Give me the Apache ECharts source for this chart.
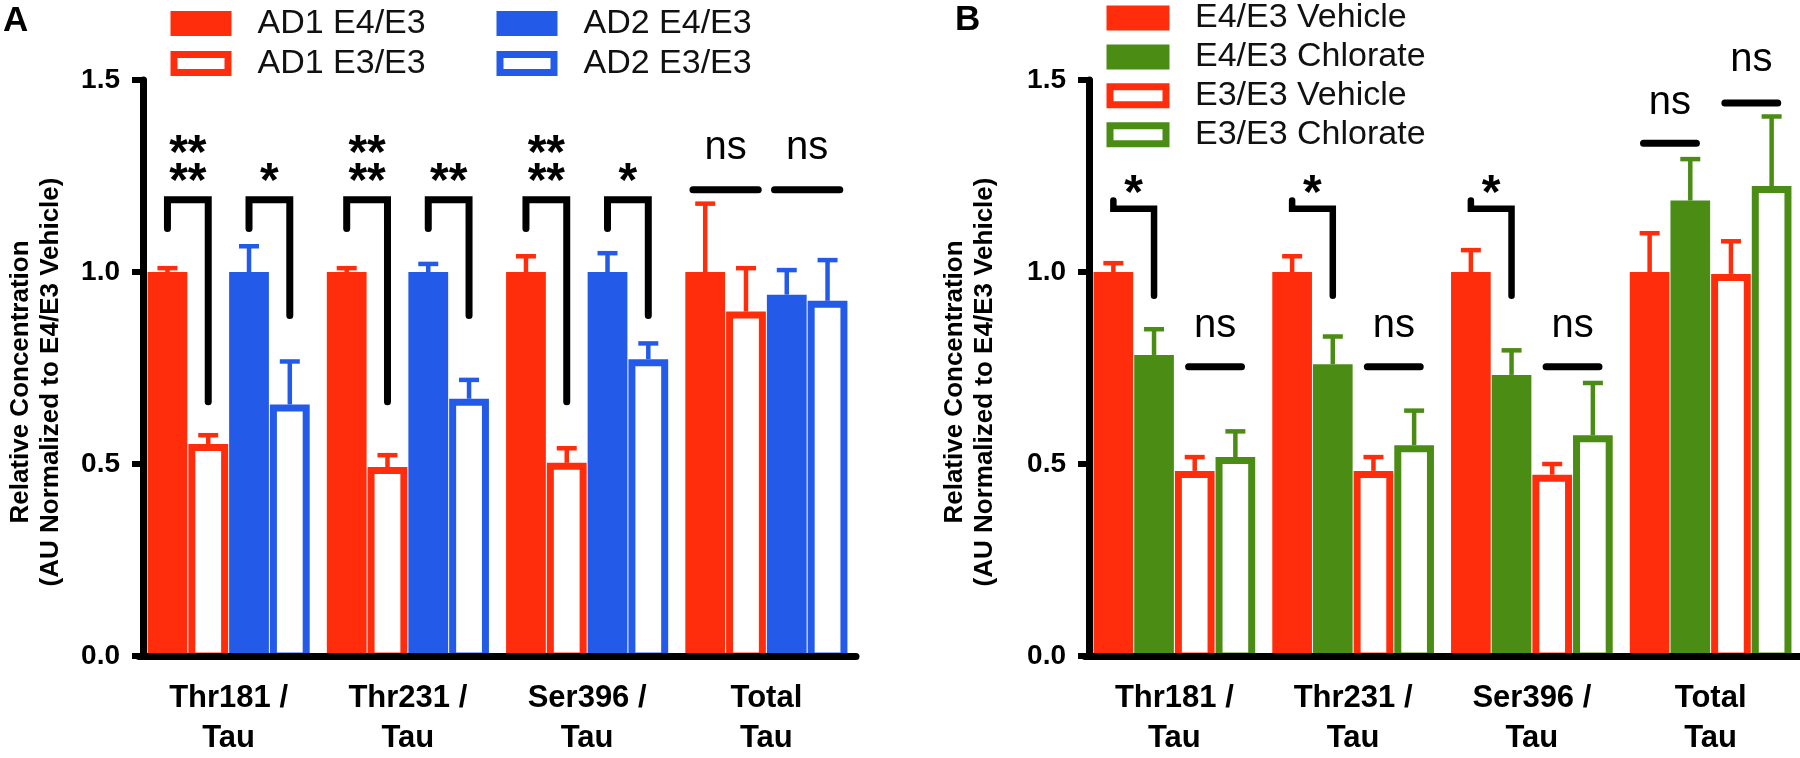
<!DOCTYPE html>
<html><head><meta charset="utf-8">
<script src="https://cdn.jsdelivr.net/npm/echarts@6/dist/echarts.min.js"></script>
<style>html,body{margin:0;padding:0;background:#fff}#c{width:1800px;height:758px}</style>
</head><body><div id="c"></div>
<script>
// ---------- data ----------
const categories = ['Thr181 /\nTau', 'Thr231 /\nTau', 'Ser396 /\nTau', 'Total\nTau'];
const yTickLabels = ['0.0', '0.5', '1.0', '1.5'];

// Panel A
const ad1E4 = [1.00, 1.00, 1.00, 1.00];
const ad1E4Err = [0.010, 0.010, 0.041, 0.178];
const ad1E3 = [0.552, 0.492, 0.503, 0.897];
const ad1E3Err = [0.023, 0.031, 0.038, 0.113];
const ad2E4 = [1.00, 1.00, 1.00, 0.941];
const ad2E4Err = [0.067, 0.021, 0.049, 0.064];
const ad2E3 = [0.655, 0.670, 0.773, 0.925];
const ad2E3Err = [0.112, 0.049, 0.041, 0.106];

// Panel B
const vehE4 = [1.00, 1.00, 1.00, 1.00];
const vehE4Err = [0.023, 0.041, 0.057, 0.101];
const chlE4 = [0.784, 0.760, 0.732, 1.186];
const chlE4Err = [0.067, 0.072, 0.064, 0.108];
const vehE3 = [0.482, 0.482, 0.472, 0.995];
const vehE3Err = [0.036, 0.036, 0.028, 0.085];
const chlE3 = [0.518, 0.549, 0.575, 1.224];
const chlE3Err = [0.067, 0.090, 0.136, 0.181];

// significance annotations: [category, barFrom, barTo, leftEnd, top, rightEnd]
const bracketsA = [[0,0,1,1.113,1.188,0.662],[0,2,3,1.113,1.188,0.887],
                   [1,0,1,1.113,1.188,0.662],[1,2,3,1.113,1.188,0.887],
                   [2,0,1,1.113,1.188,0.662],[2,2,3,1.113,1.188,0.887]];
const bracketsB = [[0,0,1,1.186,1.165,0.938],[1,0,1,1.186,1.165,0.938],[2,0,1,1.186,1.165,0.938]];
// ns lines: [category, barFrom, barTo, level]
const nsLinesA = [[3,0,1,1.214],[3,2,3,1.214]];
const nsLinesB = [[0,2,3,0.753],[1,2,3,0.753],[2,2,3,0.753],[3,0,1,1.335],[3,2,3,1.44]];
// labels: [category, barFrom, barTo, level, text]
const sigLabelsA = [[0,0,1,1.335,'**'],[0,0,1,1.26,'**'],[0,2,3,1.26,'*'],
                    [1,0,1,1.335,'**'],[1,0,1,1.26,'**'],[1,2,3,1.26,'**'],
                    [2,0,1,1.335,'**'],[2,0,1,1.26,'**'],[2,2,3,1.26,'*'],
                    [3,0,1,1.314,'ns'],[3,2,3,1.314,'ns']];
const sigLabelsB = [[0,0,1,1.229,'*'],[1,0,1,1.229,'*'],[2,0,1,1.229,'*'],
                    [0,2,3,0.851,'ns'],[1,2,3,0.851,'ns'],[2,2,3,0.851,'ns'],
                    [3,0,1,1.43,'ns'],[3,2,3,1.544,'ns']];

// ---------- style ----------
const RED = '#ff2d0c', BLUE = '#235ae8', GREEN = '#4a8c14';
const FONT = "'Liberation Sans', Arial, Helvetica, sans-serif";
const GAPFRAC = 0.09, BORDER = 7, ERRW = 4.5, CAPHALF = 10;

function barGeom(api, cat, k) {
  const base = api.coord([cat, 0]);
  const band = api.size([1, 0])[0];
  const groupW = band * (1 - GAPFRAC);
  const bw = groupW / 4;
  const x0 = base[0] - groupW / 2 + k * bw;
  return {x0, bw, cx: x0 + bw / 2, y0: base[1]};
}

function barSeries(name, gi, k, values, errs, color, hollow) {
  return {
    type: 'custom', name, xAxisIndex: gi, yAxisIndex: gi, z: 2,
    data: values.map((v, i) => [i, v, errs[i]]),
    encode: {x: 0, y: 1},
    renderItem(params, api) {
      const cat = api.value(0), v = api.value(1), e = api.value(2);
      const g = barGeom(api, cat, k);
      const yTop = api.coord([cat, v])[1];
      const yErr = api.coord([cat, v + e])[1];
      const ch = [];
      if (hollow) {
        ch.push({type: 'rect', shape: {x: g.x0 + BORDER / 2 + 0.5, y: yTop + BORDER / 2, width: g.bw - BORDER - 1, height: g.y0 - yTop - BORDER / 2},
                 style: {fill: '#fff', stroke: color, lineWidth: BORDER}});
      } else {
        ch.push({type: 'rect', shape: {x: g.x0 + 0.5, y: yTop, width: g.bw - 1, height: g.y0 - yTop}, style: {fill: color}});
      }
      ch.push({type: 'line', shape: {x1: g.cx, y1: yTop, x2: g.cx, y2: yErr}, style: {stroke: color, lineWidth: ERRW}});
      ch.push({type: 'line', shape: {x1: g.cx - CAPHALF, y1: yErr, x2: g.cx + CAPHALF, y2: yErr}, style: {stroke: color, lineWidth: ERRW}});
      return {type: 'group', children: ch};
    }
  };
}

function annSeries(gi, brackets, nsLines, labels, lineW, nsHalf) {
  const items = [];
  brackets.forEach(b => items.push({kind: 'b', d: b}));
  nsLines.forEach(b => items.push({kind: 'n', d: b}));
  labels.forEach(b => items.push({kind: 't', d: b}));
  return {
    type: 'custom', xAxisIndex: gi, yAxisIndex: gi, silent: true, z: 5,
    data: items.map((it, i) => [it.d[0], it.d[3], i]),
    encode: {x: 0, y: 1},
    renderItem(params, api) {
      const it = items[api.value(2)];
      const d = it.d, cat = d[0];
      const gL = barGeom(api, cat, d[1]), gR = barGeom(api, cat, d[2]);
      const Y = v => api.coord([cat, v])[1];
      const mid = (gL.cx + gR.cx) / 2;
      if (it.kind === 'b') {
        return {type: 'polyline', shape: {points: [[gL.cx, Y(d[3])], [gL.cx, Y(d[4])], [gR.cx, Y(d[4])], [gR.cx, Y(d[5])]]},
                style: {stroke: '#000', lineWidth: lineW, fill: null, lineCap: 'round', lineJoin: 'miter'}};
      }
      if (it.kind === 'n') {
        const h = nsHalf * gL.bw;
        return {type: 'line', shape: {x1: mid - h, y1: Y(d[3]), x2: mid + h, y2: Y(d[3])},
                style: {stroke: '#000', lineWidth: 7, lineCap: 'round'}};
      }
      const isStar = d[4].indexOf('*') >= 0;
      const fs = isStar ? 48 : 40;
      const dy = isStar ? 0.23 * fs : -0.09 * fs;
      return {type: 'text', x: mid, y: Y(d[3]) + dy,
              style: {text: d[4], fill: '#000', font: (isStar ? 'bold ' : '') + fs + 'px ' + FONT, textAlign: 'center', textVerticalAlign: 'middle'}};
    }
  };
}

function xAxisCfg(gi) {
  return {type: 'category', gridIndex: gi, data: categories, z: 10,
    axisLine: {lineStyle: {color: '#000', width: 7}},
    axisTick: {alignWithLabel: true, length: 13, lineStyle: {width: 6, color: '#000'}},
    axisLabel: {fontSize: 31, fontWeight: 'bold', lineHeight: 40, color: '#000', margin: 22, interval: 0, fontFamily: FONT}};
}
function yAxisCfg(gi, nameGap) {
  return {type: 'value', gridIndex: gi, min: 0, max: 1.5, interval: 0.5, offset: -4, z: 10,
    axisLine: {show: true, lineStyle: {color: '#000', width: 7}},
    axisTick: {show: true, length: 11, lineStyle: {width: 6, color: '#000'}},
    splitLine: {show: false},
    axisLabel: {formatter: (v) => yTickLabels[Math.round(v / 0.5)], fontSize: 28, fontWeight: 'bold', color: '#000', margin: 23, fontFamily: FONT},
    name: 'Relative Concentration\n(AU Normalized to E4/E3 Vehicle)', nameLocation: 'middle', nameRotate: 90, nameGap,
    nameTextStyle: {fontSize: 26, fontWeight: 'bold', lineHeight: 30, color: '#000', fontFamily: FONT, padding: [0, 28, 0, 0]}};
}

function legendCfg(left, top, gap, iw, pad, items) {
  return {orient: 'vertical', left, top, itemWidth: iw, itemHeight: 18, itemGap: gap, icon: 'rect', padding: 0,
    selectedMode: false,
    textStyle: {fontSize: 34, fontFamily: FONT, color: '#111', padding: [0, 0, 0, pad], lineHeight: 34},
    data: items.map(([name, color, hollow]) => ({name, itemStyle: {color: hollow ? '#fff' : color, borderColor: color, borderWidth: BORDER}}))};
}

const chart = echarts.init(document.getElementById('c'));
chart.setOption({
  animation: false,
  backgroundColor: '#fff',
  grid: [{left: 139, top: 80, width: 717, height: 582}, {left: 1085, top: 80, width: 717, height: 582}],
  xAxis: [xAxisCfg(0), xAxisCfg(1)],
  yAxis: [yAxisCfg(0, 77), yAxisCfg(1, 89)],
  legend: [
    legendCfg(170.5, 6.5, 6, 54, 24.5, [['AD1 E4/E3', RED, false], ['AD1 E3/E3', RED, true]]),
    legendCfg(496.5, 6.5, 6, 54, 24.5, [['AD2 E4/E3', BLUE, false], ['AD2 E3/E3', BLUE, true]]),
    legendCfg(1106.5, 1, 4.9, 56, 24, [['E4/E3 Vehicle', RED, false], ['E4/E3 Chlorate', GREEN, false], ['E3/E3 Vehicle', RED, true], ['E3/E3 Chlorate', GREEN, true]])
  ],
  graphic: [
    {type: 'text', left: 3, top: 4, style: {text: 'A', font: 'bold 35px ' + FONT, fill: '#000'}},
    {type: 'text', left: 955, top: 3, style: {text: 'B', font: 'bold 35px ' + FONT, fill: '#000'}}
  ],
  series: [
    barSeries('AD1 E4/E3', 0, 0, ad1E4, ad1E4Err, RED, false),
    barSeries('AD1 E3/E3', 0, 1, ad1E3, ad1E3Err, RED, true),
    barSeries('AD2 E4/E3', 0, 2, ad2E4, ad2E4Err, BLUE, false),
    barSeries('AD2 E3/E3', 0, 3, ad2E3, ad2E3Err, BLUE, true),
    annSeries(0, bracketsA, nsLinesA, sigLabelsA, 7, 0.8),
    barSeries('E4/E3 Vehicle', 1, 0, vehE4, vehE4Err, RED, false),
    barSeries('E4/E3 Chlorate', 1, 1, chlE4, chlE4Err, GREEN, false),
    barSeries('E3/E3 Vehicle', 1, 2, vehE3, vehE3Err, RED, true),
    barSeries('E3/E3 Chlorate', 1, 3, chlE3, chlE3Err, GREEN, true),
    annSeries(1, bracketsB, nsLinesB, sigLabelsB, 6.5, 0.65)
  ]
});
</script></body></html>
